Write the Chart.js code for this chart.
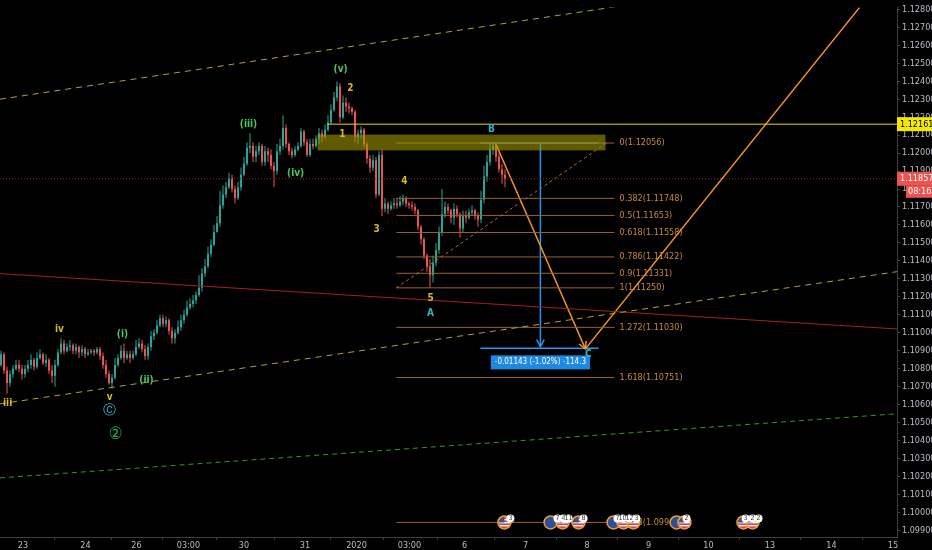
<!DOCTYPE html>
<html>
<head>
<meta charset="utf-8">
<script src="https://cdn.jsdelivr.net/npm/chart.js@4.4.1/dist/chart.umd.min.js"></script>
<style>
  html, body { margin: 0; padding: 0; background: #000; }
  canvas { display: block; }
</style>
</head>
<body>
<canvas id="chart" width="932" height="550"></canvas>
<script>
// Price data (EURUSD 1H), one candle per slot
const openFirst = 1.1082;
const closes = [
  1.1088,1.1079,1.1072,1.1077,1.1080,1.1082,1.1080,1.1077,1.1080,1.1082,
  1.1085,1.1081,1.1086,1.1088,1.1083,1.1085,1.1079,1.1076,1.1082,1.1089,
  1.1094,1.1090,1.1092,1.1093,1.1090,1.1092,1.1089,1.1091,1.1088,1.1089,
  1.1090,1.1089,1.1091,1.1087,1.1082,1.1077,1.1072,1.1075,1.1082,1.1086,
  1.1090,1.1086,1.1088,1.1086,1.1088,1.1092,1.1094,1.1091,1.1087,1.1092,
  1.1098,1.1100,1.1104,1.1108,1.1105,1.1107,1.1101,1.1097,1.1100,1.1103,
  1.1107,1.1110,1.1114,1.1116,1.1118,1.1121,1.1125,1.1133,1.1137,1.1144,
  1.1149,1.1156,1.1161,1.1171,1.1177,1.1181,1.1186,1.1180,1.1175,1.1181,
  1.1188,1.1194,1.1203,1.1204,1.1198,1.1201,1.1204,1.1195,1.1201,1.1199,
  1.1193,1.1190,1.1201,1.1204,1.1214,1.1205,1.1201,1.1199,1.1202,1.1204,
  1.1212,1.1206,1.1199,1.1205,1.1204,1.1208,1.1211,1.1209,1.1213,1.1217,
  1.1224,1.1231,1.1237,1.1220,1.1228,1.1226,1.1225,1.1223,1.1209,1.1211,
  1.1213,1.1205,1.1197,1.1192,1.1196,1.1177,1.1199,1.1169,1.1172,1.1169,
  1.1171,1.1172,1.1171,1.1173,1.1175,1.1172,1.1171,1.1170,1.1168,1.1159,
  1.1152,1.1143,1.1137,1.1132,1.1139,1.1146,1.1156,1.1166,1.1170,1.1168,
  1.1164,1.1169,1.1166,1.1158,1.1165,1.1164,1.1167,1.1168,1.1165,1.1163,
  1.1174,1.1187,1.1195,1.1202,1.1204,1.1198,1.1191,1.1188,1.11857
];
const highs = [
  1.1090,1.1089,1.1081,1.1079,1.1082,1.1085,1.1085,1.1082,1.1082,1.1085,
  1.1088,1.1086,1.1089,1.1091,1.1089,1.1088,1.1086,1.1082,1.1085,1.1091,
  1.1097,1.1096,1.1094,1.1096,1.1094,1.1094,1.1093,1.1093,1.1092,1.1091,
  1.1091,1.1091,1.1092,1.1092,1.1089,1.1085,1.1079,1.1077,1.1086,1.1088,
  1.1093,1.1094,1.1090,1.1090,1.1090,1.1096,1.1097,1.1096,1.1093,1.1094,
  1.1101,1.1102,1.1107,1.1110,1.1110,1.1109,1.1108,1.1103,1.1102,1.1107,
  1.1110,1.1113,1.1118,1.1119,1.1121,1.1123,1.1132,1.1136,1.1141,1.1148,
  1.1152,1.1160,1.1165,1.1179,1.1182,1.1184,1.1189,1.1188,1.1182,1.1184,
  1.1192,1.1198,1.1206,1.1211,1.1206,1.1204,1.1206,1.1205,1.1204,1.1203,
  1.1202,1.1195,1.1205,1.1208,1.1221,1.1216,1.1206,1.1203,1.1204,1.1206,
  1.1214,1.1213,1.1208,1.1208,1.1208,1.1210,1.1214,1.1213,1.1216,1.1221,
  1.1227,1.1234,1.1240,1.1239,1.1232,1.1231,1.1228,1.1226,1.1224,1.1213,
  1.1215,1.1214,1.1206,1.1199,1.1199,1.1198,1.1201,1.1202,1.1175,1.1173,
  1.1173,1.1175,1.1175,1.1176,1.1177,1.1176,1.1173,1.1173,1.1172,1.1169,
  1.1160,1.1153,1.1144,1.1141,1.1143,1.1150,1.1159,1.1180,1.1173,1.1172,
  1.1169,1.1172,1.1171,1.1167,1.1168,1.1168,1.1169,1.1171,1.1169,1.1167,
  1.1179,1.1193,1.1199,1.1205,1.1206,1.1205,1.1200,1.1194,1.1191
];
const lows = [
  1.1081,1.1077,1.1066,1.1070,1.1075,1.1079,1.1078,1.1074,1.1075,1.1078,
  1.1080,1.1079,1.1080,1.1085,1.1082,1.1081,1.1077,1.1072,1.1070,1.1081,
  1.1088,1.1088,1.1089,1.1090,1.1088,1.1088,1.1086,1.1087,1.1086,1.1087,
  1.1088,1.1087,1.1088,1.1085,1.1080,1.1075,1.1071,1.1069,1.1074,1.1081,
  1.1085,1.1083,1.1085,1.1083,1.1085,1.1087,1.1091,1.1089,1.1085,1.1085,
  1.1090,1.1096,1.1099,1.1103,1.1103,1.1103,1.1099,1.1094,1.1094,1.1099,
  1.1101,1.1105,1.1109,1.1113,1.1114,1.1116,1.1120,1.1123,1.1131,1.1136,
  1.1142,1.1148,1.1156,1.1159,1.1169,1.1175,1.1180,1.1178,1.1172,1.1174,
  1.1179,1.1187,1.1193,1.1200,1.1195,1.1195,1.1199,1.1193,1.1193,1.1195,
  1.1191,1.1181,1.1188,1.1199,1.1202,1.1203,1.1199,1.1197,1.1198,1.1201,
  1.1203,1.1204,1.1198,1.1198,1.1202,1.1203,1.1205,1.1206,1.1208,1.1212,
  1.1216,1.1223,1.1229,1.1217,1.1219,1.1223,1.1222,1.1221,1.1206,1.1205,
  1.1208,1.1203,1.1194,1.1189,1.1190,1.1175,1.1176,1.1165,1.1167,1.1166,
  1.1168,1.1169,1.1169,1.1170,1.1171,1.1170,1.1169,1.1168,1.1166,1.1157,
  1.1149,1.1141,1.1134,1.1125,1.1128,1.1137,1.1144,1.1154,1.1164,1.1166,
  1.1161,1.1160,1.1164,1.1153,1.1156,1.1161,1.1163,1.1165,1.1163,1.1159,
  1.1161,1.1172,1.1184,1.1193,1.1199,1.1195,1.1189,1.1183,1.1181
];

// Axes
const xMin = -1 / 3, xMax = 298 + 2 / 3;
const yMin = 1.09863, yMax = 1.12811;
const xTickPos = [7.33, 28.17, 45.17, 62.5, 81, 101.33, 118.5, 136.17, 154.5, 174.83, 195.33, 215.83, 235.83, 256.33, 276.83, 297.33];
const xTickLabels = ['23', '24', '26', '03:00', '30', '31', '2020', '03:00', '6', '7', '8', '9', '10', '13', '14', '15'];
const yTicks = [1.099, 1.100, 1.101, 1.102, 1.103, 1.104, 1.105, 1.106, 1.107, 1.108, 1.109, 1.110, 1.111, 1.112, 1.113,
                1.114, 1.115, 1.116, 1.117, 1.118, 1.119, 1.120, 1.121, 1.122, 1.123, 1.124, 1.125, 1.126, 1.127, 1.128];

// Trend lines (start / end)
const lineX = [xMin, xMax];
const upperDashY = [1.1230, 1.1305];
const channelY = [1.10604, 1.11340];
const greenDashY = [1.10192, 1.10549];
const redLineY = [1.11329, 1.11021];
const hLevelX = [108.8, xMax];
const hLevel = 1.12161;
const lastPrice = 1.11857;

// Resistance zone
const zoneX = [105.5, 201.5];
const zoneY = [1.12015, 1.12103];

// Fibonacci retracement
const fibX = [131.8, 204.5];
const fibTrendX = [131.8, 201.8];
const fibTrendY = [1.11250, 1.12056];
const fibRatios = ['0', '0.382', '0.5', '0.618', '0.786', '0.9', '1', '1.272', '1.618', '2.618'];
const fibPrices = [1.12056, 1.11748, 1.11653, 1.11558, 1.11422, 1.11331, 1.11250, 1.11030, 1.10751, 1.09944];
const fibTextX = 206.2;

// ABC projection and price range
const abcX = [164.8, 194.8, 286.2];
const abcY = [1.12056, 1.10910, 1.12811];
const rangeX = 179.8, rangeLeft = 159.8, rangeRight = 199.2;
const rangeTop = 1.12056, rangeBottom = 1.10913;
const rangeText = '-0.01143 (-1.02%) -114.3';

// Wave labels
const waveText = ['(v)', '2', '(iii)', '1', '(iv)', '4', '3', 'B', '5', 'A', 'C', 'iv', '(i)', '(ii)', 'v', 'Ⓒ', '②', 'iii'];
const waveX = [113.2, 116.5, 82.5, 113.8, 98.2, 134.5, 125.2, 163.5, 143.2, 143.2, 195.8, 19.5, 40.5, 48.5, 36.2, 36.2, 38.2, 2.2];
const waveY = [1.12465, 1.12361, 1.12158, 1.12103, 1.11889, 1.11845, 1.11576, 1.12130, 1.11192, 1.11109, 1.10879,
               1.11016, 1.10988, 1.10736, 1.10642, 1.10566, 1.10434, 1.10604];
const waveKind = ['g', 'y', 'g', 'y', 'g', 'y', 'y', 'c', 'y', 'c', 'c', 'y', 'g', 'g', 'y', 'c', 'g2', 'y'];

// Economic calendar events
const eventX = [167.8, 183.2, 187.2, 192.5, 204.2, 207.5, 210.8, 225.2, 227.8, 247.5, 250.5];
const eventFlag = ['us', 'eu', 'us', 'us', 'eu', 'us', 'us', 'eu', 'us', 'us', 'us'];
const eventY = 1.09944;
const badgeX = [169.8, 185.5, 187.5, 189.2, 194.2, 205.5, 207.2, 209.5, 211.8, 228.5, 248.2, 250.5, 252.5];
const badgeText = ['3', '7', '4', '11', '8', '7', '10', '12', '3', '2', '3', '2', '2'];

const UP = '#26a69a', DOWN = '#ef5350';
const FONT = '"Liberation Sans Narrow", "DejaVu Sans Condensed", "Liberation Sans", sans-serif';
const COLORS = { g: '#4cc761', y: '#d8bb22', c: '#2fb5c8', g2: '#27b346' };

// Build candles
const opens = closes.map((c, i) => i === 0 ? openFirst : closes[i - 1]);
const candleColors = closes.map((c, i) => c >= opens[i] ? UP : DOWN);
const wickData = closes.map((c, i) => ({ x: i, y: [Math.min(lows[i], c, opens[i]), Math.max(highs[i], c, opens[i])] }));
const bodyData = closes.map((c, i) => ({ x: i, y: [opens[i], c] }));

function seg(xs, ys, color, width, dash) {
    return {
        type: 'line',
        data: xs.map((v, i) => ({ x: v, y: ys[i] })),
        borderColor: color,
        borderWidth: width,
        borderDash: dash || [],
        pointRadius: 0,
        fill: false,
        tension: 0,
        clip: 0,
        order: 2
    };
}

const datasets = [
    { type: 'bar', data: bodyData, backgroundColor: candleColors, barThickness: 2, grouped: false, minBarLength: 1, inflateAmount: 0, order: 10 },
    { type: 'bar', data: wickData, backgroundColor: candleColors, barThickness: 1, grouped: false, inflateAmount: 0, order: 11 },
    seg(lineX, upperDashY, '#b3a324', 1, [6, 5]),
    seg(lineX, channelY, '#b3a324', 1, [6, 5]),
    seg(lineX, greenDashY, '#2a9a36', 1, [5, 4]),
    seg(lineX, redLineY, '#a81e1e', 1),
    seg(lineX, [lastPrice, lastPrice], '#8a2838', 1, [1, 2]),
    seg(hLevelX, [hLevel, hLevel], '#e8d800', 1),
    seg(fibTrendX, fibTrendY, '#b07030', 1, [3, 3])
];
fibPrices.forEach(p => datasets.push(seg(fibX, [p, p], '#9a6228', 1)));
datasets.push(seg(abcX, abcY, '#f7941d', 1.5));
datasets.push(seg([rangeLeft, rangeRight], [rangeTop, rangeTop], '#2196f3', 1.5));
datasets.push(seg([rangeLeft, rangeRight], [rangeBottom, rangeBottom], '#2196f3', 1.5));
datasets.push(seg([rangeX, rangeX], [rangeTop, rangeBottom + 0.0001], '#2196f3', 1.5));

function arrowHead(ctx, x0, y0, x1, y1, color) {
    const ang = Math.atan2(y1 - y0, x1 - x0);
    ctx.strokeStyle = color;
    ctx.lineWidth = 1.5;
    ctx.beginPath();
    ctx.moveTo(x1 - 8 * Math.cos(ang - 0.5), y1 - 8 * Math.sin(ang - 0.5));
    ctx.lineTo(x1, y1);
    ctx.lineTo(x1 - 8 * Math.cos(ang + 0.5), y1 - 8 * Math.sin(ang + 0.5));
    ctx.stroke();
}

const overlay = {
    id: 'overlay',
    afterDatasetsDraw(chart) {
        const { ctx, chartArea: a, scales: { x, y } } = chart;
        ctx.save();
        ctx.beginPath();
        ctx.rect(a.left, a.top, a.right - a.left, a.bottom - a.top);
        ctx.clip();

        // resistance zone
        const zx0 = x.getPixelForValue(zoneX[0]), zx1 = x.getPixelForValue(zoneX[1]);
        const zy0 = y.getPixelForValue(zoneY[1]), zy1 = y.getPixelForValue(zoneY[0]);
        ctx.fillStyle = 'rgba(160,150,0,0.6)';
        ctx.fillRect(zx0, zy0, zx1 - zx0, zy1 - zy0);

        // fib labels
        ctx.font = '9px ' + FONT;
        ctx.textAlign = 'left';
        ctx.textBaseline = 'middle';
        ctx.fillStyle = '#c98a3c';
        fibPrices.forEach((p, i) => {
            ctx.fillText(fibRatios[i] + '(' + p.toFixed(5) + ')', x.getPixelForValue(fibTextX), y.getPixelForValue(p));
        });

        // arrow heads
        arrowHead(ctx, x.getPixelForValue(abcX[0]), y.getPixelForValue(abcY[0]),
                  x.getPixelForValue(abcX[1]), y.getPixelForValue(abcY[1]), '#f7941d');
        arrowHead(ctx, x.getPixelForValue(rangeX), y.getPixelForValue(rangeTop),
                  x.getPixelForValue(rangeX), y.getPixelForValue(rangeBottom + 0.0001), '#2196f3');

        // price range label
        ctx.font = '8px ' + FONT;
        const tw = ctx.measureText(rangeText).width + 8;
        const rx = x.getPixelForValue(rangeX), ry = y.getPixelForValue(rangeBottom) + 7;
        ctx.fillStyle = '#1e88e5';
        ctx.fillRect(rx - tw / 2, ry, tw, 14);
        ctx.fillStyle = '#ffffff';
        ctx.textAlign = 'center';
        ctx.fillText(rangeText, rx, ry + 7);

        // calendar events
        const ey = y.getPixelForValue(eventY);
        eventX.forEach((ex, i) => {
            const px = x.getPixelForValue(ex);
            ctx.save();
            ctx.beginPath();
            ctx.arc(px, ey, 6, 0, Math.PI * 2);
            ctx.clip();
            if (eventFlag[i] === 'eu') {
                ctx.fillStyle = '#2d4f9a';
                ctx.fillRect(px - 6, ey - 6, 12, 12);
            } else {
                ctx.fillStyle = '#f2f2f2';
                ctx.fillRect(px - 6, ey - 6, 12, 12);
                ctx.fillStyle = '#d93a3a';
                for (let s = -5; s < 6; s += 3) ctx.fillRect(px - 6, ey + s, 12, 1.5);
                ctx.fillStyle = '#36528f';
                ctx.fillRect(px - 6, ey - 6, 6, 6);
            }
            ctx.restore();
            ctx.strokeStyle = '#f0a030';
            ctx.lineWidth = 1.5;
            ctx.beginPath();
            ctx.arc(px, ey, 6.5, 0, Math.PI * 2);
            ctx.stroke();
        });
        ctx.font = '7px ' + FONT;
        ctx.textAlign = 'center';
        badgeX.forEach((bx, i) => {
            const px = x.getPixelForValue(bx);
            ctx.fillStyle = '#ffffff';
            ctx.beginPath();
            ctx.arc(px, ey - 4, 4, 0, Math.PI * 2);
            ctx.fill();
            ctx.fillStyle = '#333';
            ctx.fillText(badgeText[i], px, ey - 4);
        });

        // wave labels
        waveText.forEach((t, i) => {
            const k = waveKind[i];
            ctx.font = (t === '②' ? '17px ' : t === 'Ⓒ' ? '13px ' : 'bold 10px ') + FONT;
            ctx.fillStyle = COLORS[k];
            ctx.textAlign = 'center';
            ctx.fillText(t, x.getPixelForValue(waveX[i]), y.getPixelForValue(waveY[i]));
        });
        ctx.restore();
    },
    afterDraw(chart) {
        const { ctx, chartArea: a, scales: { y } } = chart;
        const w = chart.width;
        ctx.save();
        ctx.font = '9px ' + FONT;
        ctx.textBaseline = 'middle';
        ctx.textAlign = 'left';
        // horizontal level label
        let py = y.getPixelForValue(hLevel);
        ctx.fillStyle = '#f5e800';
        ctx.fillRect(a.right, py - 7, w - a.right, 14);
        ctx.fillStyle = '#000';
        ctx.fillText(hLevel.toFixed(5), a.right + 3, py);
        // last price + countdown
        py = y.getPixelForValue(lastPrice);
        ctx.fillStyle = '#ef5350';
        ctx.fillRect(a.right, py - 7, w - a.right, 14);
        ctx.fillRect(a.right + 9, py + 7, w - a.right - 9, 12);
        ctx.fillStyle = '#fff';
        ctx.fillText(lastPrice.toFixed(5), a.right + 3, py);
        ctx.fillText('08:16', a.right + 11, py + 13);
        ctx.restore();
    }
};

new Chart(document.getElementById('chart'), {
    type: 'bar',
    data: { datasets },
    plugins: [overlay],
    options: {
        responsive: false,
        animation: false,
        events: [],
        layout: { padding: 0 },
        plugins: { legend: { display: false }, tooltip: { enabled: false } },
        scales: {
            x: {
                type: 'linear', min: xMin, max: xMax, offset: false,
                grid: { drawOnChartArea: false, drawTicks: true, tickLength: 3, color: '#3a3e48' },
                border: { color: '#3a3e48' },
                afterBuildTicks: s => { s.ticks = xTickPos.map(v => ({ value: v })); },
                afterFit: s => { s.height = 13; },
                ticks: {
                    autoSkip: false, maxRotation: 0, padding: 0, color: '#b8bcc6',
                    font: { family: FONT, size: 9 },
                    callback: (v, i) => xTickLabels[i]
                }
            },
            y: {
                type: 'linear', position: 'right', min: yMin, max: yMax,
                grid: { drawOnChartArea: false, drawTicks: true, tickLength: 3, color: '#3a3e48' },
                border: { color: '#3a3e48' },
                afterBuildTicks: s => { s.ticks = yTicks.map(v => ({ value: v })); },
                afterFit: s => { s.width = 35; },
                ticks: {
                    padding: 2, color: '#b8bcc6',
                    font: { family: FONT, size: 9 },
                    callback: v => v.toFixed(5)
                }
            }
        }
    }
});
</script>
</body>
</html>
